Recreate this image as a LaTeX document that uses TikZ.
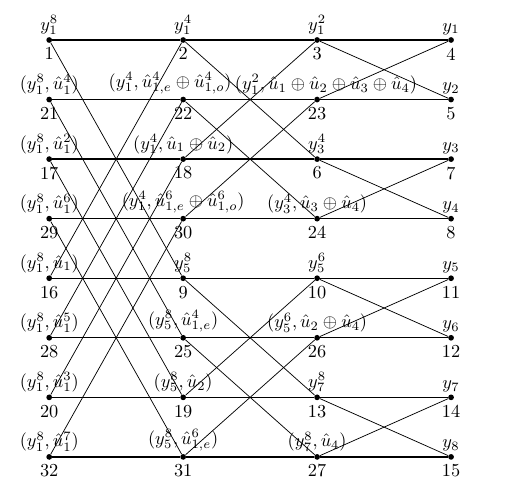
\documentclass[tikz,border=0pt]{standalone}
\usepackage{amsmath}
\usepackage{tikz}
\usetikzlibrary{positioning, calc}

\begin{document}
\begin{tikzpicture}[
        dot/.style={circle, fill=black, inner sep=0pt, minimum size=0.11cm},
        lab/.style={inner sep=1pt},
        num/.style={inner sep=2.2pt},
        hline/.style={line width=0.75pt},
        dline/.style={line width=0.4pt}
    ]
    \useasboundingbox (0,0) rectangle (9.70,-9.60);

    % nodes: number / column / row / label / label shift
    \foreach \num/\c/\r/\lab/\dx in {
        1/0/0/{y_1^8}/0, 2/1/0/{y_1^4}/0, 3/2/0/{y_1^2}/0, 4/3/0/{y_1}/0,
        21/0/1/{(y_1^8,\hat{u}_1^4)}/0, 22/1/1/{(y_1^4,\hat{u}_{1,e}^4\oplus\hat{u}_{1,o}^4)}/-0.25,
        23/2/1/{(y_1^2,\hat{u}_1\oplus\hat{u}_2\oplus\hat{u}_3\oplus\hat{u}_4)}/0.17, 5/3/1/{y_2}/0,
        17/0/2/{(y_1^8,\hat{u}_1^2)}/0, 18/1/2/{(y_1^4,\hat{u}_1\oplus\hat{u}_2)}/0, 6/2/2/{y_3^4}/0, 7/3/2/{y_3}/0,
        29/0/3/{(y_1^8,\hat{u}_1^6)}/0, 30/1/3/{(y_1^4,\hat{u}_{1,e}^6\oplus\hat{u}_{1,o}^6)}/0,
        24/2/3/{(y_3^4,\hat{u}_3\oplus\hat{u}_4)}/0, 8/3/3/{y_4}/0,
        16/0/4/{(y_1^8,\hat{u}_1)}/0, 9/1/4/{y_5^8}/0, 10/2/4/{y_5^6}/0, 11/3/4/{y_5}/0,
        28/0/5/{(y_1^8,\hat{u}_1^5)}/0, 25/1/5/{(y_5^8,\hat{u}_{1,e}^4)}/0, 26/2/5/{(y_5^6,\hat{u}_2\oplus\hat{u}_4)}/0, 12/3/5/{y_6}/0,
        20/0/6/{(y_1^8,\hat{u}_1^3)}/0, 19/1/6/{(y_5^8,\hat{u}_2)}/0, 13/2/6/{y_7^8}/0, 14/3/6/{y_7}/0,
        32/0/7/{(y_1^8,\hat{u}_1^7)}/0, 31/1/7/{(y_5^8,\hat{u}_{1,e}^6)}/0, 27/2/7/{(y_7^8,\hat{u}_4)}/0, 15/3/7/{y_8}/0} {
        \node[dot, label={[lab, xshift=\dx cm]above:$\lab$}, label={[num]below:\num}]
            (n\num) at (0.945 + 2.573*\c, -0.768 - 1.144*\r) {};
    }

    % horizontal lines
    \foreach \a/\b in {1/2, 2/3, 3/4, 21/22, 22/23, 23/5, 17/18, 18/6, 6/7, 29/30, 30/24, 24/8,
        16/9, 9/10, 10/11, 28/25, 25/26, 26/12, 20/19, 19/13, 13/14, 32/31, 31/27, 27/15} {
        \draw[hline] (n\a) -- (n\b);
    }

    % crossing lines
    \foreach \a/\b in {1/9, 21/25, 17/19, 29/31, 16/2, 28/22, 20/18, 32/30,
        2/6, 22/24, 18/3, 30/23, 9/13, 25/27, 19/10, 31/26,
        3/5, 23/4, 6/8, 24/7, 10/12, 26/11, 13/15, 27/14} {
        \draw[dline] (n\a) -- (n\b);
    }
\end{tikzpicture}
\end{document}
